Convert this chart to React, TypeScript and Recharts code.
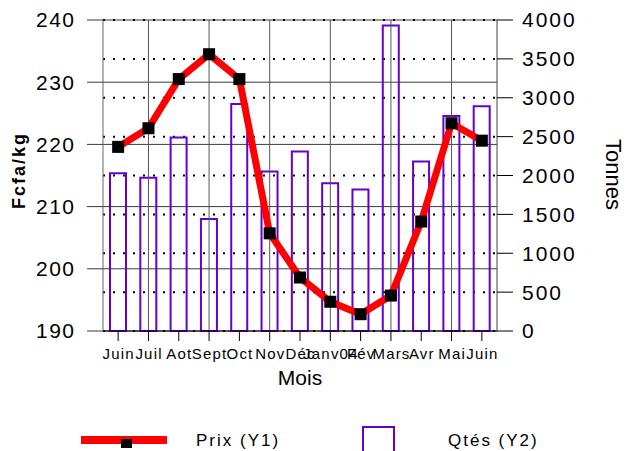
import React from 'react';
import {
  ComposedChart,
  Bar,
  Line,
  XAxis,
  YAxis,
  CartesianGrid,
  ReferenceLine,
  Legend,
} from 'recharts';

const months = ['Juin', 'Juil', 'Aot', 'Sept', 'Oct', 'Nov', 'Déc', 'Janv04', 'Fév', 'Mars', 'Avr', 'Mai', 'Juin'];
const prix = [219.6, 222.6, 230.5, 234.5, 230.5, 205.7, 198.6, 194.7, 192.7, 195.7, 207.6, 223.4, 220.6];
const qtes = [2030, 1970, 2490, 1440, 2920, 2050, 2310, 1900, 1820, 3930, 2180, 2765, 2890];
const prixTicks = [190, 200, 210, 220, 230, 240];
const qteTicks = [0, 500, 1000, 1500, 2000, 2500, 3000, 3500, 4000];

const data = months.map((m, i) => ({ i, m, prix: prix[i], qte: qtes[i] }));
const gridIdx = data.filter((d) => d.i % 2 === 1).map((d) => d.i);

const FONT = '"Liberation Sans", Arial, Helvetica, sans-serif';
const PURPLE = '#6600cc';
const RED = '#ff0000';

const LeftTick = (props: any) => {
  const { x, y, payload } = props;
  return (
    <text x={x + 1.5} y={y} dy="0.355em" textAnchor="end" fontSize={21} fontFamily={FONT} fill="#000" letterSpacing={1.5}>
      {payload.value}
    </text>
  );
};

const RightTick = (props: any) => {
  const { x, y, payload } = props;
  return (
    <text x={x} y={y} dy="0.355em" textAnchor="start" fontSize={21} fontFamily={FONT} fill="#000" letterSpacing={2}>
      {payload.value}
    </text>
  );
};

const BottomTick = (props: any) => {
  const { x, y, payload } = props;
  return (
    <text x={x + 0.6} y={y} dy="0.71em" textAnchor="middle" fontSize={15} fontFamily={FONT} fill="#000" letterSpacing={1.2}>
      {months[payload.value]}
    </text>
  );
};

const SquareDot = (props: any) => {
  const { cx, cy, index } = props;
  if (cx == null || cy == null) return null;
  return <rect key={`dot-${index}`} x={cx - 6} y={cy - 6} width={12} height={12} fill="#000" />;
};

const renderLegend = (props: any) => {
  const payload = props.payload || [];
  const line = payload.find((p: any) => p.dataKey === 'prix');
  const bar = payload.find((p: any) => p.dataKey === 'qte');
  return (
    <svg width={628} height={36} style={{ display: 'block' }}>
      <rect x={81} y={21} width={86} height={8} fill={RED} />
      <rect x={121} y={24} width={11} height={9} fill="#000" />
      <text x={196} y={31} fontSize={17} fontFamily={FONT} fill="#000" letterSpacing={2}>
        {line ? line.value : 'Prix (Y1)'}
      </text>
      <rect x={363} y={12} width={31} height={40} fill="none" stroke={PURPLE} strokeWidth={2} />
      <text x={448} y={31} fontSize={17} fontFamily={FONT} fill="#000" letterSpacing={2}>
        {bar ? bar.value : 'Qtés (Y2)'}
      </text>
    </svg>
  );
};

export default function App() {
  return (
    <div style={{ position: 'absolute', left: 0, top: 0, background: '#fff' }}>
      <ComposedChart width={628} height={451} data={data} margin={{ top: 20, right: 0, bottom: 60, left: 0 }}>
        <CartesianGrid yAxisId="left" vertical={false} stroke="#3a3a3a" strokeWidth={1} />
        <CartesianGrid yAxisId="right" vertical={false} stroke="#000" strokeWidth={2} strokeDasharray="2 8" />
        {gridIdx.map((g) => (
          <ReferenceLine key={g} x={g} yAxisId="left" stroke="#555" strokeWidth={1} />
        ))}
        <XAxis
          dataKey="i"
          type="category"
          interval={0}
          tickSize={10}
          tickMargin={7}
          height={60}
          axisLine={{ stroke: '#000' }}
          tickLine={{ stroke: '#000' }}
          tick={<BottomTick />}
          label={(p: any) => {
            const vb = p.viewBox;
            return (
              <text x={vb.x + vb.width / 2} y={vb.y + 54} textAnchor="middle" fontSize={21} fontFamily={FONT} fill="#000">
                Mois
              </text>
            );
          }}
        />
        <YAxis
          yAxisId="left"
          orientation="left"
          width={103}
          domain={[190, 240]}
          ticks={prixTicks}
          tickSize={16}
          tickMargin={13}
          axisLine={{ stroke: '#666' }}
          tickLine={{ stroke: '#3a3a3a' }}
          tick={<LeftTick />}
          label={(p: any) => {
            const vb = p.viewBox;
            const cx = vb.x + 19;
            const cy = vb.y + vb.height / 2 - 5;
            return (
              <text x={cx} y={cy} transform={`rotate(-90 ${cx} ${cy})`} textAnchor="middle" dominantBaseline="central" fontSize={18} fontWeight="bold" fontFamily={FONT} fill="#000" letterSpacing={2}>
                Fcfa/kg
              </text>
            );
          }}
        />
        <YAxis
          yAxisId="right"
          orientation="right"
          width={131}
          domain={[0, 4000]}
          ticks={qteTicks}
          tickSize={16}
          tickMargin={9}
          axisLine={{ stroke: '#444' }}
          tickLine={{ stroke: '#000' }}
          tick={<RightTick />}
          label={(p: any) => {
            const vb = p.viewBox;
            const cx = vb.x + 116;
            const cy = vb.y + vb.height / 2 - 1;
            return (
              <text x={cx} y={cy} transform={`rotate(90 ${cx} ${cy})`} textAnchor="middle" dominantBaseline="central" fontSize={22} fontFamily={FONT} fill="#000">
                Tonnes
              </text>
            );
          }}
        />
        <Bar
          yAxisId="right"
          dataKey="qte"
          name="Qtés (Y2)"
          barSize={16}
          fill="none"
          stroke={PURPLE}
          strokeWidth={2}
          isAnimationActive={false}
        />
        <Line
          yAxisId="left"
          dataKey="prix"
          name="Prix (Y1)"
          type="linear"
          stroke={RED}
          strokeWidth={7}
          strokeLinejoin="round"
          dot={<SquareDot />}
          activeDot={false}
          isAnimationActive={false}
        />
        <Legend
          layout="horizontal"
          verticalAlign="middle"
          align="center"
          wrapperStyle={{ position: 'absolute', left: 0, top: 415, width: 628, height: 36 }}
          content={renderLegend}
        />
      </ComposedChart>
    </div>
  );
}
